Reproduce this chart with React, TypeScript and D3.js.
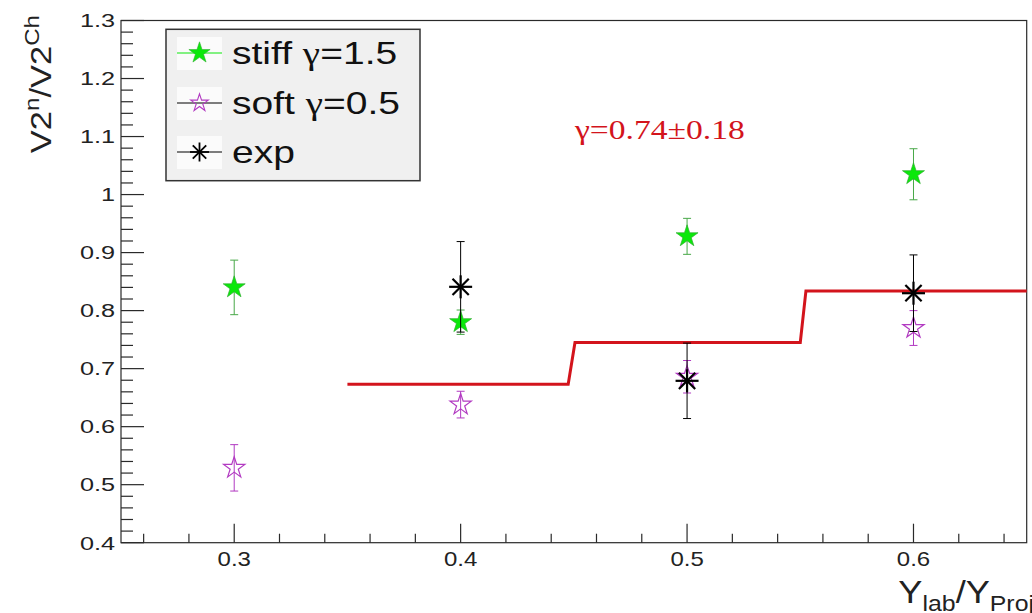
import React from "react";
import * as d3 from "d3";

// Points in Y_lab/Y_Proj
const xPoints = [0.3, 0.4, 0.5, 0.6];

// Model: stiff symmetry energy (gamma = 1.5)
const stiffRatio = [0.84, 0.78, 0.928, 1.035];
const stiffErr = [0.047, 0.021, 0.031, 0.044];

// Model: soft symmetry energy (gamma = 0.5)
const softRatio = [0.529, 0.638, 0.686, 0.77];
const softErr = [0.04, 0.023, 0.028, 0.03];

// Measured ratio
const expX = [0.4, 0.5, 0.6];
const expRatio = [0.841, 0.679, 0.83];
const expErr = [0.078, 0.065, 0.066];

// Interpolated gamma = 0.74 curve, drawn as steps
const stepX = [0.35, 0.4475, 0.4505, 0.55, 0.5525, 0.65];
const stepY = [0.673, 0.673, 0.745, 0.745, 0.834, 0.834];

const xTickLabels = ["0.3", "0.4", "0.5", "0.6"];
const yTickLabels = ["0.4", "0.5", "0.6", "0.7", "0.8", "0.9", "1", "1.1", "1.2", "1.3"];

const legendLabels = ["stiff \u03b3=1.5", "soft \u03b3=0.5", "exp"];
const fitLabel = "\u03b3=0.74\u00b10.18";

const W = 1032;
const H = 613;
const L = 121;
const R = 1026.7;
const T = 20.5;
const B = 542.7;

const GREEN = "#0be80b";
const GREEN_BAR = "#48a848";
const MAGENTA = "#b23ac2";
const RED = "#d3141c";
const AXIS = "#2a2a2a";
const SANS = "'Liberation Sans', Arial, Helvetica, sans-serif";
const SERIF = "'Liberation Serif', 'Times New Roman', serif";

const x = d3.scaleLinear().domain([0.25, 0.65]).range([L, R]);
const y = d3.scaleLinear().domain([0.4, 1.3]).range([B, T]);

const starFilled = d3.symbol(d3.symbolStar, 150)() as string;
const starOpen = d3.symbol(d3.symbolStar, 140)() as string;
const starLegendFilled = d3.symbol(d3.symbolStar, 140)() as string;
const starLegendOpen = d3.symbol(d3.symbolStar, 95)() as string;

function Asterisk({ cx, cy, r, w }: { cx: number; cy: number; r: number; w: number }) {
  const d = r * Math.SQRT1_2;
  return (
    <g stroke="#000" strokeWidth={w} strokeLinecap="butt">
      <line x1={cx - r} y1={cy} x2={cx + r} y2={cy} />
      <line x1={cx} y1={cy - r} x2={cx} y2={cy + r} />
      <line x1={cx - d} y1={cy - d} x2={cx + d} y2={cy + d} />
      <line x1={cx - d} y1={cy + d} x2={cx + d} y2={cy - d} />
    </g>
  );
}

function ErrorBar({ xv, v, e, color, w = 1 }: { xv: number; v: number; e: number; color: string; w?: number }) {
  const px = x(xv);
  const cap = 4;
  return (
    <g stroke={color} strokeWidth={w}>
      <line x1={px} y1={y(v + e)} x2={px} y2={y(v - e)} />
      <line x1={px - cap} y1={y(v + e)} x2={px + cap} y2={y(v + e)} />
      <line x1={px - cap} y1={y(v - e)} x2={px + cap} y2={y(v - e)} />
    </g>
  );
}

// Greek letters are set in a serif face, the rest in sans
function withGreek(label: string) {
  return label.split(/(\u03b3)/).map((part, i) =>
    part === "\u03b3" ? (
      <tspan key={i} fontFamily={SERIF}>
        {part}
      </tspan>
    ) : (
      <tspan key={i}>{part}</tspan>
    )
  );
}

export default function App() {
  const xMajor = d3.range(0.3, 0.601, 0.1);
  const xMinor = d3.range(0.26, 0.645, 0.02).filter((v) => Math.abs(v * 10 - Math.round(v * 10)) > 1e-6);
  const yMajor = d3.range(0.4, 1.301, 0.1);
  const yMinor = d3.range(0.42, 1.29, 0.02).filter((v) => Math.abs(v * 10 - Math.round(v * 10)) > 1e-6);

  const stepLine = d3
    .line<number>()
    .x((_, i) => x(stepX[i]))
    .y((v) => y(v))(stepY) as string;

  const legendRows = [53, 103, 152];

  return (
    <div style={{ position: "fixed", left: 0, top: 0, width: W, height: H, background: "#fff" }}>
      <svg width={W} height={H} viewBox={`0 0 ${W} ${H}`} style={{ display: "block" }}>
        <rect x={0} y={0} width={W} height={H} fill="#fff" />

        {/* frame */}
        <rect x={L} y={T} width={R - L} height={B - T} fill="none" stroke={AXIS} strokeWidth={1.2} />

        {/* ticks */}
        <g stroke={AXIS} strokeWidth={1.2}>
          {yMajor.map((v) => (
            <line key={"ym" + v} x1={L} x2={L + 23} y1={y(v)} y2={y(v)} />
          ))}
          {yMinor.map((v) => (
            <line key={"yn" + v} x1={L} x2={L + 12} y1={y(v)} y2={y(v)} />
          ))}
          {xMajor.map((v) => (
            <line key={"xm" + v} x1={x(v)} x2={x(v)} y1={B} y2={B - 19} />
          ))}
          {xMinor.map((v) => (
            <line key={"xn" + v} x1={x(v)} x2={x(v)} y1={B} y2={B - 9} />
          ))}
        </g>

        {/* y tick labels */}
        <g fontFamily={SANS} fontSize={19} fill="#222" textAnchor="end">
          {yTickLabels.map((t, i) => (
            <text key={t} transform={`translate(${L - 6},${y(yMajor[i]) + 6.8}) scale(1.33,1)`}>
              {t}
            </text>
          ))}
        </g>

        {/* x tick labels */}
        <g fontFamily={SANS} fontSize={20} fill="#222" textAnchor="middle">
          {xTickLabels.map((t, i) => (
            <text key={t} transform={`translate(${x(xMajor[i])},${566}) scale(1.2,1)`}>
              {t}
            </text>
          ))}
        </g>

        {/* y title */}
        <text
          fontFamily={SANS}
          fontSize={30}
          fill="#222"
          textAnchor="end"
          transform={`translate(51,15) rotate(-90) scale(1.15,1)`}
        >
          V2
          <tspan fontSize={21} dy={-12}>n</tspan>
          <tspan dy={12}>/V2</tspan>
          <tspan fontSize={21} dy={-12}>Ch</tspan>
        </text>

        {/* x title */}
        <text fontFamily={SANS} fontSize={32} fill="#222" textAnchor="end" transform={`translate(1034,603) scale(1.13,1)`}>
          Y
          <tspan fontSize={22} dy={8}>lab</tspan>
          <tspan dy={-8}>/Y</tspan>
          <tspan fontSize={22} dy={8}>Proj</tspan>
        </text>

        {/* gamma curve */}
        <path d={stepLine} fill="none" stroke={RED} strokeWidth={3} />

        {/* stiff */}
        {xPoints.map((xv, i) => (
          <ErrorBar key={"se" + i} xv={xv} v={stiffRatio[i]} e={stiffErr[i]} color={GREEN_BAR} />
        ))}
        {xPoints.map((xv, i) => (
          <path
            key={"s" + i}
            d={starFilled}
            transform={`translate(${x(xv)},${y(stiffRatio[i])})`}
            fill={GREEN}
            stroke="#2fae2f"
            strokeWidth={0.7}
          />
        ))}

        {/* soft */}
        {xPoints.map((xv, i) => (
          <ErrorBar key={"oe" + i} xv={xv} v={softRatio[i]} e={softErr[i]} color={MAGENTA} />
        ))}
        {xPoints.map((xv, i) => (
          <path
            key={"o" + i}
            d={starOpen}
            transform={`translate(${x(xv)},${y(softRatio[i])})`}
            fill="none"
            stroke={MAGENTA}
            strokeWidth={1.2}
          />
        ))}

        {/* exp */}
        {expX.map((xv, i) => (
          <ErrorBar key={"ee" + i} xv={xv} v={expRatio[i]} e={expErr[i]} color="#000" />
        ))}
        {expX.map((xv, i) => (
          <Asterisk key={"e" + i} cx={x(xv)} cy={y(expRatio[i])} r={11.5} w={2.2} />
        ))}

        {/* fit result */}
        <text fontFamily={SERIF} fontSize={28} fill={RED} transform="translate(575,139) scale(1.2,1)">
          {fitLabel}
        </text>

        {/* legend */}
        <rect x={166} y={29.3} width={254} height={151.4} fill="#f0f0f0" stroke="#333" strokeWidth={1.5} />
        {legendRows.map((cy, i) => (
          <g key={"lg" + i}>
            <rect x={177} y={cy - 16} width={45} height={33} fill="#fbfbfb" />
            <line x1={177} x2={222} y1={cy} y2={cy} stroke={i === 0 ? GREEN : "#000"} strokeWidth={1.2} />
            <text
              fontFamily={SANS}
              fontSize={32}
              fill="#111"
              transform={`translate(232,${cy + 11}) scale(1.22,1)`}
            >
              {withGreek(legendLabels[i])}
            </text>
          </g>
        ))}
        <path d={starLegendFilled} transform={`translate(199.5,${legendRows[0]})`} fill={GREEN} stroke="#2fae2f" strokeWidth={0.6} />
        <path d={starLegendOpen} transform={`translate(199.5,${legendRows[1]})`} fill="none" stroke={MAGENTA} strokeWidth={1.1} />
        <Asterisk cx={199.5} cy={legendRows[2]} r={9.5} w={1.8} />
      </svg>
    </div>
  );
}
